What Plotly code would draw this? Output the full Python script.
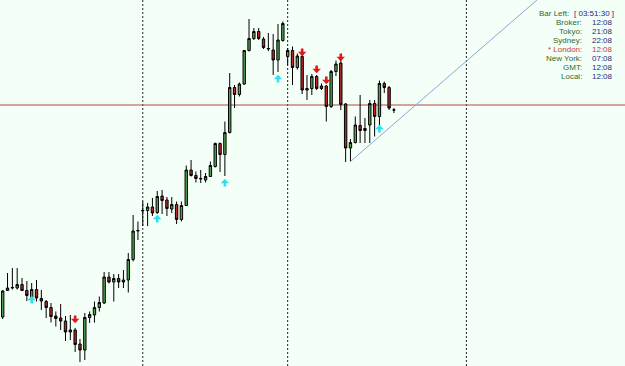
import plotly.graph_objects as go

# ---- data (prices) ----
opens = [1.30490, 1.30755, 1.30780, 1.30780, 1.30815, 1.30755, 1.30685, 1.30765, 1.30675, 1.30645,
         1.30585, 1.30500, 1.30480, 1.30450, 1.30340, 1.30360, 1.30220, 1.30160, 1.30485, 1.30510,
         1.30585, 1.30630, 1.30890, 1.30840, 1.30875, 1.30840, 1.30860, 1.31065, 1.31350, 1.31550,
         1.31555, 1.31590, 1.31535, 1.31700, 1.31660, 1.31570, 1.31615, 1.31465, 1.31605, 1.31960,
         1.31905, 1.31870, 1.31860, 1.31895, 1.31995, 1.32225, 1.32115, 1.32335, 1.32785, 1.32715,
         1.32820, 1.33155, 1.33275, 1.33345, 1.33270, 1.33170, 1.33160, 1.33060, 1.33255, 1.33095,
         1.33155, 1.32985, 1.33095, 1.32760, 1.32775, 1.32895, 1.32775, 1.32800, 1.32595, 1.32945,
         1.33030, 1.32620, 1.32180, 1.32235, 1.32405, 1.32355, 1.32410, 1.32625, 1.32495, 1.32825,
         1.32785, 1.32560]
highs = [1.30760, 1.30930, 1.30980, 1.30980, 1.30880, 1.30850, 1.30830, 1.30860, 1.30760, 1.30660,
         1.30630, 1.30545, 1.30620, 1.30500, 1.30510, 1.30380, 1.30270, 1.30530, 1.30545, 1.30645,
         1.30695, 1.30940, 1.30940, 1.30920, 1.30920, 1.30960, 1.31130, 1.31510, 1.31445, 1.31645,
         1.31630, 1.31680, 1.31750, 1.31760, 1.31690, 1.31690, 1.31645, 1.31645, 1.32005, 1.32060,
         1.31945, 1.31960, 1.31930, 1.32045, 1.32235, 1.32235, 1.32445, 1.32930, 1.32810, 1.32835,
         1.33160, 1.33470, 1.33380, 1.33380, 1.33290, 1.33330, 1.33320, 1.33420, 1.33445, 1.33180,
         1.33195, 1.33125, 1.33110, 1.32910, 1.32920, 1.32910, 1.32825, 1.32810, 1.32960, 1.33055,
         1.33080, 1.32630, 1.32270, 1.32495, 1.32710, 1.32480, 1.32660, 1.32660, 1.32855, 1.32845,
         1.32800, 1.32580]
lows = [1.30470, 1.30750, 1.30765, 1.30765, 1.30750, 1.30650, 1.30665, 1.30645, 1.30560, 1.30480,
        1.30435, 1.30395, 1.30360, 1.30250, 1.30260, 1.30140, 1.30040, 1.30060, 1.30430, 1.30435,
        1.30545, 1.30620, 1.30825, 1.30645, 1.30780, 1.30780, 1.30735, 1.31045, 1.31260, 1.31400,
        1.31400, 1.31500, 1.31520, 1.31520, 1.31500, 1.31530, 1.31420, 1.31445, 1.31600, 1.31895,
        1.31835, 1.31830, 1.31835, 1.31890, 1.31985, 1.31940, 1.31900, 1.32325, 1.32580, 1.32695,
        1.32810, 1.33145, 1.33260, 1.33260, 1.33170, 1.33150, 1.32910, 1.32940, 1.33245, 1.33010,
        1.32810, 1.32965, 1.32720, 1.32660, 1.32710, 1.32760, 1.32760, 1.32445, 1.32580, 1.32900,
        1.32560, 1.32040, 1.32045, 1.32225, 1.32230, 1.32230, 1.32230, 1.32295, 1.32410, 1.32730,
        1.32560, 1.32530]
closes = [1.30750, 1.30780, 1.30785, 1.30815, 1.30755, 1.30705, 1.30765, 1.30680, 1.30650, 1.30585,
          1.30495, 1.30475, 1.30450, 1.30340, 1.30360, 1.30215, 1.30160, 1.30485, 1.30515, 1.30585,
          1.30635, 1.30890, 1.30840, 1.30875, 1.30840, 1.30860, 1.31065, 1.31350, 1.31355, 1.31555,
          1.31590, 1.31530, 1.31695, 1.31655, 1.31575, 1.31615, 1.31465, 1.31605, 1.31960, 1.31905,
          1.31875, 1.31875, 1.31895, 1.32005, 1.32225, 1.32115, 1.32335, 1.32785, 1.32715, 1.32820,
          1.33155, 1.33275, 1.33345, 1.33275, 1.33185, 1.33175, 1.33060, 1.33260, 1.33425, 1.33155,
          1.32985, 1.33100, 1.32760, 1.32775, 1.32895, 1.32775, 1.32800, 1.32595, 1.32945, 1.33020,
          1.32615, 1.32180, 1.32235, 1.32410, 1.32355, 1.32375, 1.32625, 1.32495, 1.32825, 1.32785,
          1.32580, 1.32560]
bars = list(range(len(opens)))

up_arrow_bars = [6, 32, 46, 57, 78]
up_arrow_prices = [1.30700, 1.31510, 1.31870, 1.32910, 1.32410]
down_arrow_bars = [15, 62, 65, 67, 70]
down_arrow_prices = [1.30430, 1.33100, 1.32930, 1.32820, 1.33050]

separator_bars = [29, 59, 96]
hline_price = 1.32610
trend_bars = [72, 112]
trend_prices = [1.32045, 1.33718]

clock_labels = ["Broker:", "Tokyo:", "Sydney:", "* London:", "New York:", "GMT:", "Local:"]
clock_values = ["12:08", "21:08", "22:08", "12:08", "07:08", "12:08", "12:08"]
bar_left = "[ 03:51:30 ]"

X_RANGE = [-0.56, 128.84]
Y_RANGE = [1.3000, 1.3366]

fig = go.Figure()
fig.add_trace(go.Candlestick(
    x=bars, open=opens, high=highs, low=lows, close=closes,
    increasing=dict(line=dict(color="#000000", width=1), fillcolor="#4FA54F"),
    decreasing=dict(line=dict(color="#000000", width=1), fillcolor="#B52A2A"),
    whiskerwidth=0, showlegend=False, hoverinfo="skip"))

# trend line
fig.add_trace(go.Scatter(x=trend_bars, y=trend_prices, mode="lines",
                         line=dict(color="#8DA6D6", width=1), showlegend=False, hoverinfo="skip"))

shapes = []
for b in separator_bars:
    shapes.append(dict(type="line", xref="x", yref="paper", x0=b, x1=b, y0=0, y1=1,
                       line=dict(color="#222222", width=1, dash="2px,2px"), layer="below"))
shapes.append(dict(type="line", xref="paper", yref="y", x0=0, x1=1, y0=hline_price, y1=hline_price,
                   line=dict(color="#B04A40", width=1), layer="below"))

annotations = []
for b, p in zip(up_arrow_bars, up_arrow_prices):
    annotations.append(dict(x=b, y=p, xref="x", yref="y", text="", showarrow=True,
                            ax=0, ay=9, arrowhead=1, arrowsize=0.55, arrowwidth=2.6,
                            arrowcolor="#2FE0F0", standoff=0))
for b, p in zip(down_arrow_bars, down_arrow_prices):
    annotations.append(dict(x=b, y=p, xref="x", yref="y", text="", showarrow=True,
                            ax=0, ay=-9, arrowhead=1, arrowsize=0.55, arrowwidth=2.6,
                            arrowcolor="#E01818", standoff=0))

FONT = "Liberation Sans, Arial, sans-serif"
FS = 8
label_color = "#2E6B2E"
value_color = "#1F1F7A"
london_color = "#C83A3A"
W, H = 625, 366
row_y0, row_dy = 13.5, 9.0
annotations.append(dict(x=570 / W, y=1 - row_y0 / H, xref="paper", yref="paper", text="Bar Left:",
                        showarrow=False, xanchor="right", yanchor="middle", borderpad=0,
                        font=dict(family=FONT, size=FS, color=label_color)))
annotations.append(dict(x=615 / W, y=1 - row_y0 / H, xref="paper", yref="paper", text=bar_left,
                        showarrow=False, xanchor="right", yanchor="middle", borderpad=0,
                        font=dict(family=FONT, size=FS, color=value_color)))
for k, (lab, val) in enumerate(zip(clock_labels, clock_values)):
    yy = 1 - (row_y0 + row_dy * (k + 1)) / H
    is_ldn = "London" in lab
    annotations.append(dict(x=583 / W, y=yy, xref="paper", yref="paper", text=lab,
                            showarrow=False, xanchor="right", yanchor="middle", borderpad=0,
                            font=dict(family=FONT, size=FS, color=london_color if is_ldn else label_color)))
    annotations.append(dict(x=614 / W, y=yy, xref="paper", yref="paper", text=val,
                            showarrow=False, xanchor="right", yanchor="middle", borderpad=0,
                            font=dict(family=FONT, size=FS, color=london_color if is_ldn else value_color)))

fig.update_layout(
    width=W, height=H, margin=dict(l=0, r=0, t=0, b=0),
    paper_bgcolor="#F4FFF8", plot_bgcolor="#F4FFF8",
    xaxis=dict(range=X_RANGE, visible=False, rangeslider=dict(visible=False), fixedrange=True),
    yaxis=dict(range=Y_RANGE, visible=False, fixedrange=True),
    shapes=shapes, annotations=annotations, showlegend=False,
)
fig.write_html("out.html", config={"displayModeBar": False})
